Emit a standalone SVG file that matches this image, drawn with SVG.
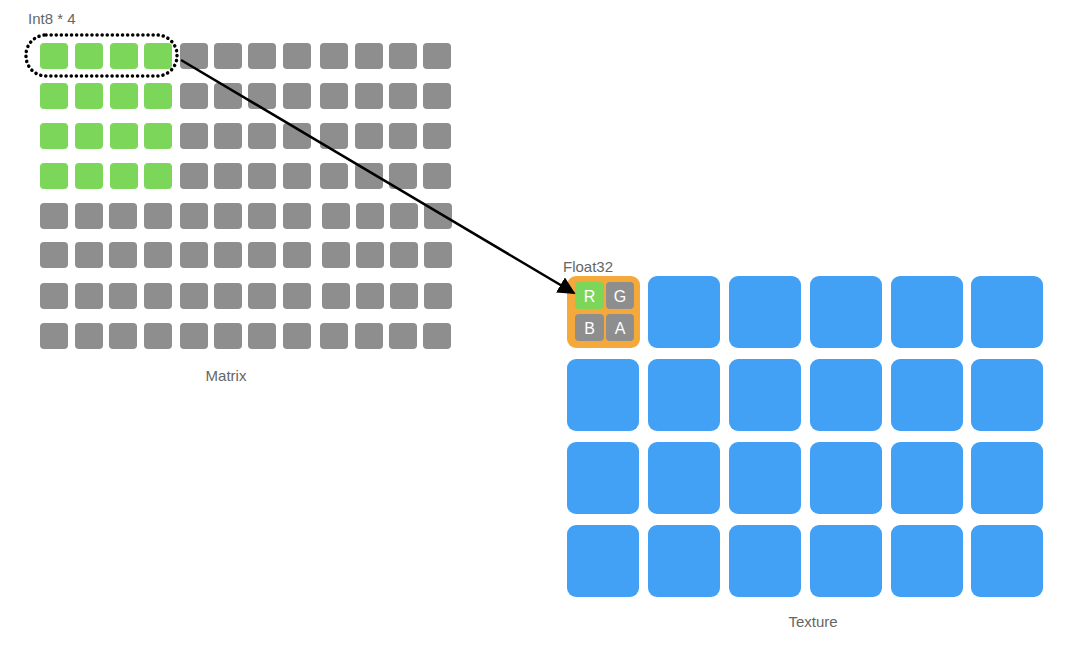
<svg xmlns="http://www.w3.org/2000/svg" width="1080" height="654" viewBox="0 0 1080 654">
<style>
.t{font-family:"Liberation Sans",Arial,sans-serif;font-size:15px;fill:#666}
.g{fill:#8E8E8E}
.gr{fill:#7CD65A}
.b{fill:#42A1F5}
.ct{font-family:"Liberation Sans",Arial,sans-serif;font-size:16px;fill:#fff;text-anchor:middle}
</style>
<defs>
<rect id="c" width="28" height="26" rx="4"/>
<rect id="tx" width="72" height="72" rx="9"/>
<marker id="ah" viewBox="0 0 10 10" refX="9" refY="5" markerWidth="7" markerHeight="7" orient="auto" markerUnits="strokeWidth"><path d="M0,0 L10,5 L0,10 z" fill="#000"/></marker>
</defs>
<rect width="1080" height="654" fill="#fff"/>
<g id="matrix">
<g class="g">
<use href="#c" x="180" y="43"/><use href="#c" x="214" y="43"/><use href="#c" x="248" y="43"/><use href="#c" x="283" y="43"/><use href="#c" x="320" y="43"/><use href="#c" x="355" y="43"/><use href="#c" x="389" y="43"/><use href="#c" x="423" y="43"/>
<use href="#c" x="180" y="83"/><use href="#c" x="214" y="83"/><use href="#c" x="248" y="83"/><use href="#c" x="283" y="83"/><use href="#c" x="320" y="83"/><use href="#c" x="355" y="83"/><use href="#c" x="389" y="83"/><use href="#c" x="423" y="83"/>
<use href="#c" x="180" y="123"/><use href="#c" x="214" y="123"/><use href="#c" x="248" y="123"/><use href="#c" x="283" y="123"/><use href="#c" x="320" y="123"/><use href="#c" x="355" y="123"/><use href="#c" x="389" y="123"/><use href="#c" x="423" y="123"/>
<use href="#c" x="180" y="163"/><use href="#c" x="214" y="163"/><use href="#c" x="248" y="163"/><use href="#c" x="283" y="163"/><use href="#c" x="320" y="163"/><use href="#c" x="355" y="163"/><use href="#c" x="389" y="163"/><use href="#c" x="423" y="163"/>
<use href="#c" x="40" y="203"/><use href="#c" x="75" y="203"/><use href="#c" x="109" y="203"/><use href="#c" x="144" y="203"/><use href="#c" x="180" y="203"/><use href="#c" x="214" y="203"/><use href="#c" x="248" y="203"/><use href="#c" x="283" y="203"/><use href="#c" x="322" y="203"/><use href="#c" x="356" y="203"/><use href="#c" x="390" y="203"/><use href="#c" x="424" y="203"/>
<use href="#c" x="40" y="242"/><use href="#c" x="75" y="242"/><use href="#c" x="109" y="242"/><use href="#c" x="144" y="242"/><use href="#c" x="180" y="242"/><use href="#c" x="214" y="242"/><use href="#c" x="248" y="242"/><use href="#c" x="283" y="242"/><use href="#c" x="322" y="242"/><use href="#c" x="356" y="242"/><use href="#c" x="390" y="242"/><use href="#c" x="424" y="242"/>
<use href="#c" x="40" y="283"/><use href="#c" x="75" y="283"/><use href="#c" x="109" y="283"/><use href="#c" x="144" y="283"/><use href="#c" x="180" y="283"/><use href="#c" x="214" y="283"/><use href="#c" x="248" y="283"/><use href="#c" x="283" y="283"/><use href="#c" x="322" y="283"/><use href="#c" x="356" y="283"/><use href="#c" x="390" y="283"/><use href="#c" x="424" y="283"/>
<use href="#c" x="40" y="323"/><use href="#c" x="75" y="323"/><use href="#c" x="109" y="323"/><use href="#c" x="144" y="323"/><use href="#c" x="180" y="323"/><use href="#c" x="214" y="323"/><use href="#c" x="248" y="323"/><use href="#c" x="283" y="323"/><use href="#c" x="320" y="323"/><use href="#c" x="355" y="323"/><use href="#c" x="389" y="323"/><use href="#c" x="423" y="323"/>
</g>
<g class="gr">
<use href="#c" x="40" y="43"/><use href="#c" x="75" y="43"/><use href="#c" x="110" y="43"/><use href="#c" x="144" y="43"/>
<use href="#c" x="40" y="83"/><use href="#c" x="75" y="83"/><use href="#c" x="110" y="83"/><use href="#c" x="144" y="83"/>
<use href="#c" x="40" y="123"/><use href="#c" x="75" y="123"/><use href="#c" x="110" y="123"/><use href="#c" x="144" y="123"/>
<use href="#c" x="40" y="163"/><use href="#c" x="75" y="163"/><use href="#c" x="110" y="163"/><use href="#c" x="144" y="163"/>
</g>
<text class="t" x="226" y="381" text-anchor="middle">Matrix</text>
</g>
<g id="selection">
<rect x="26" y="35" width="151" height="41" rx="20" fill="none" stroke="#000" stroke-width="3.5" stroke-dasharray="0.1 5" stroke-linecap="round"/>
<text class="t" x="28" y="24">Int8 * 4</text>
</g>
<g id="texture">
<g class="b">
<use href="#tx" x="648" y="276"/><use href="#tx" x="729" y="276"/><use href="#tx" x="810" y="276"/><use href="#tx" x="891" y="276"/><use href="#tx" x="971" y="276"/>
<use href="#tx" x="567" y="359"/><use href="#tx" x="648" y="359"/><use href="#tx" x="729" y="359"/><use href="#tx" x="810" y="359"/><use href="#tx" x="891" y="359"/><use href="#tx" x="971" y="359"/>
<use href="#tx" x="567" y="442"/><use href="#tx" x="648" y="442"/><use href="#tx" x="729" y="442"/><use href="#tx" x="810" y="442"/><use href="#tx" x="891" y="442"/><use href="#tx" x="971" y="442"/>
<use href="#tx" x="567" y="525"/><use href="#tx" x="648" y="525"/><use href="#tx" x="729" y="525"/><use href="#tx" x="810" y="525"/><use href="#tx" x="891" y="525"/><use href="#tx" x="971" y="525"/>
</g>
<text class="t" x="813" y="627" text-anchor="middle">Texture</text>
</g>
<g id="float32">
<rect x="567" y="276" width="73" height="72" rx="9" fill="#F5A93A"/>
<rect x="575" y="282" width="29" height="27" rx="4" class="gr"/>
<rect x="606" y="282" width="28" height="27" rx="4" class="g"/>
<rect x="575" y="314" width="29" height="27" rx="4" class="g"/>
<rect x="606" y="314" width="28" height="27" rx="4" class="g"/>
<text class="ct" x="589.5" y="301.5">R</text>
<text class="ct" x="620" y="301.5">G</text>
<text class="ct" x="589.5" y="333.5">B</text>
<text class="ct" x="620" y="333.5">A</text>
<text class="t" x="563" y="272">Float32</text>
</g>
<g id="connectors">
<line x1="181" y1="60" x2="574" y2="293" stroke="#000" stroke-width="2.5" marker-end="url(#ah)"/>
</g>
</svg>
